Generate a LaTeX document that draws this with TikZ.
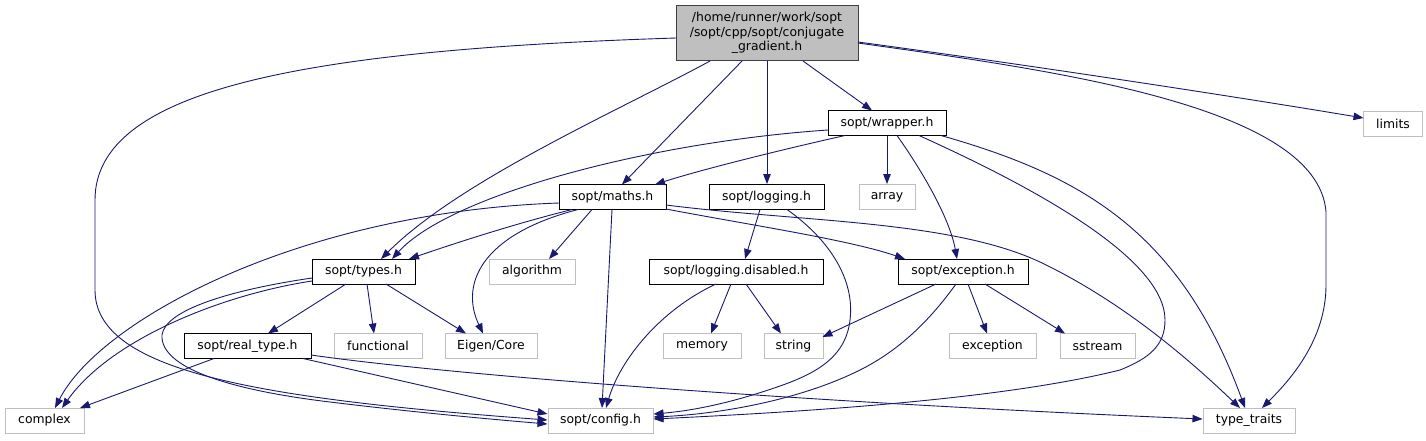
\documentclass[tikz,border=0pt]{standalone}
\usepackage{fontspec}
\setmainfont{DejaVu Sans}
\usetikzlibrary{arrows.meta,calc}
\definecolor{edgeblue}{HTML}{191970}
\definecolor{sysgray}{HTML}{BFBFBF}
\definecolor{rootborder}{HTML}{404040}
\tikzset{
  box/.style={draw, rectangle, inner sep=0pt, line width=1pt, minimum height=25pt,
    font=\fontsize{12.4}{14.6}\selectfont, text=black},
  inc/.style={box, draw=black},
  sys/.style={box, draw=sysgray},
  rootbox/.style={box, draw=rootborder, fill=sysgray, align=center},
  edge/.style={draw=edgeblue, line width=0.9pt, -{Triangle[length=10pt,width=7.5pt]}},
}
\begin{document}
\begin{tikzpicture}[x=1pt,y=-1pt]
\useasboundingbox (0,0) rectangle (1426,440);
% nodes
\node[rootbox, minimum width=182pt, minimum height=55pt] (root) at (767,33) {/home/runner/work/sopt\\/sopt/cpp/sopt/conjugate\\\_gradient.h};
\node[inc, minimum width=118pt] (wrapper) at (887,123) {sopt/wrapper.h};
\node[sys, minimum width=59pt] (limits) at (1393,123.5) {limits};
\node[inc, minimum width=107pt] (maths) at (612.5,197) {sopt/maths.h};
\node[inc, minimum width=115pt] (logging) at (766.5,197) {sopt/logging.h};
\node[sys, minimum width=56pt] (array) at (887,197) {array};
\node[inc, minimum width=103pt] (types) at (363.5,271.5) {sopt/types.h};
\node[sys, minimum width=86pt] (algorithm) at (532,271.5) {algorithm};
\node[inc, minimum width=174pt] (logdis) at (736,271.5) {sopt/logging.disabled.h};
\node[inc, minimum width=130pt] (exch) at (963,271.5) {sopt/exception.h};
\node[inc, minimum width=127pt] (realtype) at (247.5,346) {sopt/real\_type.h};
\node[sys, minimum width=88pt] (functional) at (378,346) {functional};
\node[sys, minimum width=92pt] (eigen) at (491,346) {Eigen/Core};
\node[sys, minimum width=78pt] (memory) at (702,346) {memory};
\node[sys, minimum width=59pt] (string) at (793.5,346) {string};
\node[sys, minimum width=87pt] (exception) at (992.5,346) {exception};
\node[sys, minimum width=75pt] (sstream) at (1097.5,346) {sstream};
\node[sys, minimum width=79pt] (complex) at (44.5,420.5) {complex};
\node[sys, minimum width=105pt] (config) at (600.5,420.5) {sopt/config.h};
\node[sys, minimum width=92pt] (typetraits) at (1249,420.5) {type\_traits};
% edges from root
\draw[edge] ($(root)+(-91,5)$) .. controls (300,50) and (95,90) .. (95,200) -- (95,290) .. controls (95,370) and (250,398) .. ($(config)+(-53,-0.5)$);
\draw[edge] ($(root)+(-57,28)$) .. controls (620,110) and (460,180) .. ($(types)+(17.5,-12.5)$);
\draw[edge] ($(root)+(-25,28)$) -- ($(maths)+(9.5,-12.5)$);
\draw[edge] (root.south) -- (root.south |- logging.north);
\draw[edge] ($(root)+(36,28)$) -- ($(wrapper)+(-15,-12.5)$);
\draw[edge] ($(root)+(91,9)$) .. controls (1050,68) and (1250,99) .. ($(limits)+(-29.5,-5.5)$);
\draw[edge] ($(root)+(91,10)$) .. controls (1050,70) and (1318,105) .. (1326,212) -- (1326,285) .. controls (1326,340) and (1290,380) .. ($(typetraits)+(13,-12.5)$);
% edges from wrapper
\draw[edge] ($(wrapper)+(-42,12.5)$) .. controls (780,150) and (700,170) .. ($(maths)+(42.5,-12.5)$);
\draw[edge] ($(wrapper)+(-59,7)$) .. controls (650,142) and (450,195) .. ($(types)+(28.5,-12.5)$);
\draw[edge] (wrapper.south) -- (array.north);
\draw[edge] ($(wrapper)+(10,12.5)$) .. controls (925,175) and (950,220) .. ($(exch)+(-6,-12.5)$);
\draw[edge] ($(wrapper)+(32,12.5)$) .. controls (1040,190) and (1165,260) .. (1165,320) .. controls (1165,345) and (1150,358) .. (1120,370) .. controls (1000,400) and (800,412) .. ($(config)+(53,-1.5)$);
\draw[edge] ($(wrapper)+(54,12.5)$) .. controls (1080,175) and (1180,230) .. ($(typetraits)+(-4,-12.5)$);
% edges from maths
\draw[edge] ($(maths)+(-53.5,6)$) .. controls (300,212) and (100,320) .. ($(complex)+(10.5,-12.5)$);
\draw[edge] ($(maths)+(-40.5,12.5)$) .. controls (510,225) and (450,245) .. ($(types)+(45.5,-12.5)$);
\draw[edge] ($(maths)+(-34.5,12.5)$) .. controls (480,235) and (460,285) .. ($(eigen)+(-8,-12.5)$);
\draw[edge] ($(maths)+(-20.5,12.5)$) -- ($(algorithm)+(17,-12.5)$);
\draw[edge] ($(maths)+(-0.5,12.5)$) -- ($(config)+(1.5,-12.5)$);
\draw[edge] ($(maths)+(53.5,12)$) .. controls (750,225) and (850,240) .. ($(exch)+(-58,-12.5)$);
\draw[edge] ($(maths)+(53.5,8)$) .. controls (800,222) and (950,220) .. (1040,262) .. controls (1130,305) and (1200,370) .. ($(typetraits)+(-9,-12.5)$);
% edges from logging
\draw[edge] ($(logging)+(-6.5,12.5)$) -- ($(logdis)+(9,-12.5)$);
\draw[edge] ($(logging)+(20.5,12.5)$) .. controls (830,240) and (855,280) .. (850,320) .. controls (846,355) and (820,372) .. (780,386) .. controls (740,400) and (700,410) .. ($(config)+(53,-6.5)$);
% edges from logging.disabled
\draw[edge] ($(logdis)+(-20,12.5)$) .. controls (660,310) and (620,360) .. ($(config)+(5.5,-12.5)$);
\draw[edge] ($(logdis)+(-5,12.5)$) -- ($(memory)+(9,-12.5)$);
\draw[edge] ($(logdis)+(10,12.5)$) -- ($(string)+(-12.5,-12.5)$);
% edges from exception.h
\draw[edge] ($(exch)+(-27,12.5)$) -- ($(string)+(29,-9)$);
\draw[edge] ($(exch)+(-7,12.5)$) .. controls (930,320) and (900,350) .. (860,370) .. controls (800,400) and (720,414) .. ($(config)+(53,-3.5)$);
\draw[edge] ($(exch)+(5,12.5)$) -- ($(exception)+(-5.5,-12.5)$);
\draw[edge] ($(exch)+(22,12.5)$) -- ($(sstream)+(-32.5,-12.5)$);
% edges from types
\draw[edge] ($(types)+(-51.5,9.5)$) .. controls (220,295) and (110,340) .. ($(complex)+(17.5,-12.5)$);
\draw[edge] ($(types)+(-51.5,6.5)$) .. controls (230,290) and (165,310) .. (162,335) .. controls (160,368) and (230,390) .. (330,402) .. controls (420,413) and (500,420) .. ($(config)+(-53,3.5)$);
\draw[edge] ($(types)+(-17.5,12.5)$) -- ($(realtype)+(20.5,-12.5)$);
\draw[edge] ($(types)+(3.5,12.5)$) -- ($(functional)+(-4,-12.5)$);
\draw[edge] ($(types)+(22.5,12.5)$) -- ($(eigen)+(-25,-12.5)$);
% edges from real_type
\draw[edge] ($(realtype)+(-33.5,12.5)$) -- ($(complex)+(35.5,-12.5)$);
\draw[edge] ($(realtype)+(55.5,12.5)$) -- ($(config)+(-53,-6.5)$);
\draw[edge] ($(realtype)+(63.5,9)$) .. controls (450,375) and (800,402) .. ($(typetraits)+(-46.5,-1.5)$);
\end{tikzpicture}
\end{document}
